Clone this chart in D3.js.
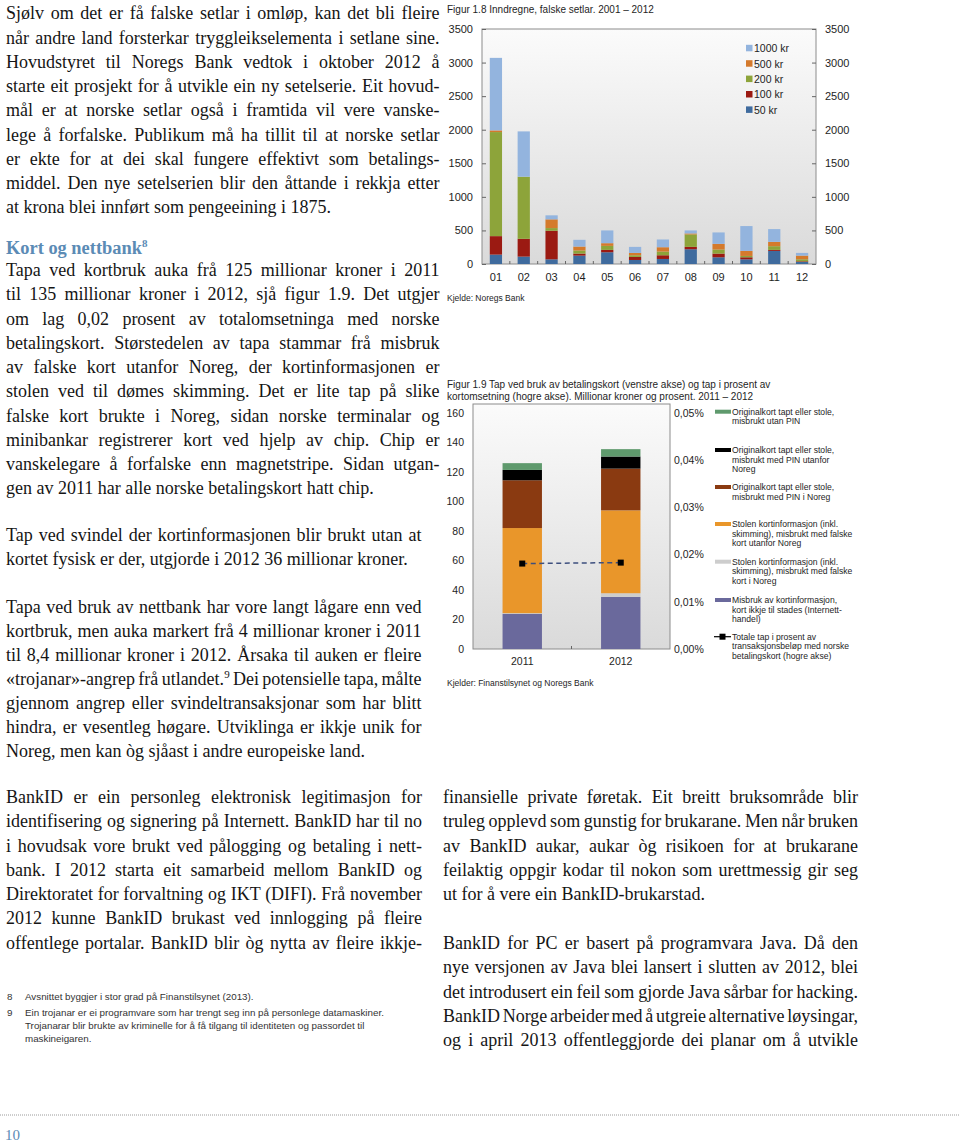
<!DOCTYPE html>
<html>
<head>
<meta charset="utf-8">
<script src="https://cdn.jsdelivr.net/npm/d3@7"></script>
<style>
  body { margin: 0; background: #fff; }
  text.body { font-family: "Liberation Serif", "Times New Roman", serif; fill: #151515; }
  .ch text { font-family: "Liberation Sans", Arial, sans-serif; fill: #1e1e1e; }
  .ch .domain { display: none; }
  .ch .tick line { stroke: #666; }
</style>
</head>
<body>
<svg id="page"></svg>
<script>
// ---- figur 1.8: inndregne falske setlar (tal), 2001-2012
const years8 = ["01", "02", "03", "04", "05", "06", "07", "08", "09", "10", "11", "12"];
const notes8 = ["50 kr", "100 kr", "200 kr", "500 kr", "1000 kr"];
const kr50 = [140, 110, 70, 125, 175, 60, 75, 220, 100, 70, 195, 30];
const kr100 = [275, 265, 425, 30, 35, 45, 55, 35, 55, 30, 15, 10];
const kr200 = [1550, 925, 40, 45, 60, 25, 55, 185, 60, 20, 55, 30];
const kr500 = [25, 0, 130, 60, 40, 35, 65, 15, 85, 75, 65, 55];
const kr1000 = [1080, 675, 60, 100, 190, 90, 115, 45, 170, 370, 190, 40];
const ticks8 = [0, 500, 1000, 1500, 2000, 2500, 3000, 3500];

// ---- figur 1.9: tap ved bruk av betalingskort, mill. kr og prosent
const years9 = ["2011", "2012"];
const cats9 = [
  "Misbruk av kortinformasjon, kort ikkje til stades (Internett-handel)",
  "Stolen kortinformasjon (inkl. skimming), misbrukt med falske kort i Noreg",
  "Stolen kortinformasjon (inkl. skimming), misbrukt med falske kort utanfor Noreg",
  "Originalkort tapt eller stole, misbrukt med PIN i Noreg",
  "Originalkort tapt eller stole, misbrukt med PIN utanfor Noreg",
  "Originalkort tapt eller stole, misbrukt utan PIN"
];
const internett = [23.8, 35.3];
const falskeNoreg = [0.5, 2.5];
const falskeUtanfor = [57.7, 56.2];
const pinNoreg = [32.4, 28.3];
const pinUtanfor = [7.0, 8.2];
const utanPin = [4.6, 5.0];
const totalPct = [0.0181, 0.0183];
const ticks9 = [0, 20, 40, 60, 80, 100, 120, 140, 160];
const ticksPct = [0, 0.01, 0.02, 0.03, 0.04, 0.05];

const width = 960, height = 1144;
const svg = d3.select("#page").attr("width", width).attr("height", height);
const defs = svg.append("defs");
const grad = defs.append("linearGradient").attr("id", "plotbg")
  .attr("x1", 0).attr("y1", 0).attr("x2", 0).attr("y2", 1);
grad.append("stop").attr("offset", "0%").attr("stop-color", "#fbfbfb");
grad.append("stop").attr("offset", "100%").attr("stop-color", "#dadada");

// ---------- body text helpers
function rich(t, s) {
  let up = false;
  s.split(/(\^\d)/).forEach(part => {
    if (!part) return;
    if (part[0] === "^") {
      t.append("tspan").attr("dy", -7).style("font-size", "11px").text(part.slice(1));
      up = true;
    } else {
      const sp = t.append("tspan").text(part);
      if (up) { sp.attr("dy", 7); up = false; }
    }
  });
}

function para(lines, x, y0, w, lastJustified = false, lh = 24.25) {
  lines.forEach((s, i) => {
    const t = svg.append("text").attr("class", "body")
      .attr("x", x).attr("y", y0 + i * lh)
      .style("font-size", "18px");
    rich(t, s);
    if (i < lines.length - 1 || lastJustified) {
      const n = (s.match(/ /g) || []).length;
      const len = t.node().getComputedTextLength();
      if (n) t.style("word-spacing", (w - len) / n + "px");
    }
  });
}

para([
  "Sjølv om det er få falske setlar i omløp, kan det bli fleire",
  "når andre land forsterkar tryggleikselementa i setlane sine.",
  "Hovudstyret til Noregs Bank vedtok i oktober 2012 å",
  "starte eit prosjekt for å utvikle ein ny setelserie. Eit hovud-",
  "mål er at norske setlar også i framtida vil vere vanske-",
  "lege å forfalske. Publikum må ha tillit til at norske setlar",
  "er ekte for at dei skal fungere effektivt som betalings-",
  "middel. Den nye setelserien blir den åttande i rekkja etter",
  "at krona blei innført som pengeeining i 1875."
], 6, 19.3, 433.5);

const head = svg.append("text").attr("class", "body")
  .attr("x", 6).attr("y", 253.5)
  .style("font-size", "18.4px").style("font-weight", "bold").style("fill", "#5b8bb5");
rich(head, "Kort og nettbank^8");

para([
  "Tapa ved kortbruk auka frå 125 millionar kroner i 2011",
  "til 135 millionar kroner i 2012, sjå figur 1.9. Det utgjer",
  "om lag 0,02 prosent av totalomsetninga med norske",
  "betalingskort. Størstedelen av tapa stammar frå misbruk",
  "av falske kort utanfor Noreg, der kortinformasjonen er",
  "stolen ved til dømes skimming. Det er lite tap på slike",
  "falske kort brukte i Noreg, sidan norske terminalar og",
  "minibankar registrerer kort ved hjelp av chip. Chip er",
  "vanskelegare å forfalske enn magnetstripe. Sidan utgan-",
  "gen av 2011 har alle norske betalingskort hatt chip."
], 6, 276, 433.5);

para([
  "Tap ved svindel der kortinformasjonen blir brukt utan at",
  "kortet fysisk er der, utgjorde i 2012 36 millionar kroner."
], 6, 541, 415.5);

para([
  "Tapa ved bruk av nettbank har vore langt lågare enn ved",
  "kortbruk, men auka markert frå 4 millionar kroner i 2011",
  "til 8,4 millionar kroner i 2012. Årsaka til auken er fleire",
  "«trojanar»-angrep frå utlandet.^9 Dei potensielle tapa, målte",
  "gjennom angrep eller svindeltransaksjonar som har blitt",
  "hindra, er vesentleg høgare. Utviklinga er ikkje unik for",
  "Noreg, men kan òg sjåast i andre europeiske land."
], 6, 613, 415.5, false, 24);

para([
  "BankID er ein personleg elektronisk legitimasjon for",
  "identifisering og signering på Internett. BankID har til no",
  "i hovudsak vore brukt ved pålogging og betaling i nett-",
  "bank. I 2012 starta eit samarbeid mellom BankID og",
  "Direktoratet for forvaltning og IKT (DIFI). Frå november",
  "2012 kunne BankID brukast ved innlogging på fleire",
  "offentlege portalar. BankID blir òg nytta av fleire ikkje-"
], 6, 803, 416, true);

para([
  "finansielle private føretak. Eit breitt bruksområde blir",
  "truleg opplevd som gunstig for brukarane. Men når bruken",
  "av BankID aukar, aukar òg risikoen for at brukarane",
  "feilaktig oppgir kodar til nokon som urettmessig gir seg",
  "ut for å vere ein BankID-brukarstad."
], 443, 803, 415);

para([
  "BankID for PC er basert på programvara Java. Då den",
  "nye versjonen av Java blei lansert i slutten av 2012, blei",
  "det introdusert ein feil som gjorde Java sårbar for hacking.",
  "BankID Norge arbeider med å utgreie alternative løysingar,",
  "og i april 2013 offentleggjorde dei planar om å utvikle"
], 443, 949, 415, true);

// footnotes
const fn = svg.append("g").attr("class", "ch").style("font-size", "9.8px");
const fnRows = [
  ["8", "Avsnittet byggjer i stor grad på Finanstilsynet (2013).", 1000],
  ["9", "Ein trojanar er ei programvare som har trengt seg inn på personlege datamaskiner.", 1016],
  ["", "Trojanarar blir brukte av kriminelle for å få tilgang til identiteten og passordet til", 1029],
  ["", "maskineigaren.", 1042]
];
fnRows.forEach(([n, s, y]) => {
  fn.append("text").attr("x", 7).attr("y", y).style("fill", "#333").text(n);
  fn.append("text").attr("x", 25).attr("y", y).style("fill", "#333").text(s);
});

// footer
svg.append("line").attr("x1", 0).attr("x2", width).attr("y1", 1115).attr("y2", 1115)
  .attr("stroke", "#9a9a9a").attr("stroke-dasharray", "1,1");
svg.append("text").attr("class", "body").attr("x", 5).attr("y", 1139.5)
  .style("font-size", "15px").style("fill", "#5b8bb5").text("10");

// ---------- figur 1.8
const c8 = { left: 482, right: 816, top: 29, bottom: 264 };
const g8 = svg.append("g").attr("class", "ch");

g8.append("text").attr("x", 447).attr("y", 12.5).style("font-size", "10px")
  .text("Figur 1.8 Inndregne, falske setlar. 2001 – 2012");

const x8 = d3.scaleBand().domain(years8).range([c8.left, c8.right])
  .paddingInner(0.56).paddingOuter(0.28);
const y8 = d3.scaleLinear().domain([0, 3500]).range([c8.bottom, c8.top]);
const color8 = d3.scaleOrdinal().domain(notes8)
  .range(["#3f6b9e", "#9b1a12", "#8da43a", "#d47a2c", "#93b4de"]);

g8.append("rect").attr("x", c8.left).attr("y", c8.top)
  .attr("width", c8.right - c8.left).attr("height", c8.bottom - c8.top)
  .attr("fill", "url(#plotbg)").attr("stroke", "#8c8c8c");

const rows8 = years8.map((yr, i) => ({
  year: yr, "50 kr": kr50[i], "100 kr": kr100[i], "200 kr": kr200[i],
  "500 kr": kr500[i], "1000 kr": kr1000[i]
}));
const stack8 = d3.stack().keys(notes8)(rows8);

g8.selectAll("g.layer").data(stack8).join("g").attr("class", "layer")
  .attr("fill", d => color8(d.key))
  .selectAll("rect").data(d => d).join("rect")
  .attr("x", d => x8(d.data.year))
  .attr("width", x8.bandwidth())
  .attr("y", d => y8(d[1]))
  .attr("height", d => y8(d[0]) - y8(d[1]));

const fmt8 = d3.format("d");
g8.append("g").attr("transform", `translate(${c8.left},0)`)
  .call(d3.axisLeft(y8).tickValues(ticks8).tickFormat(fmt8)
    .tickSizeInner(-4).tickSizeOuter(0).tickPadding(9))
  .selectAll("text").style("font-size", "11px");
g8.append("g").attr("transform", `translate(${c8.right},0)`)
  .call(d3.axisRight(y8).tickValues(ticks8).tickFormat(fmt8)
    .tickSizeInner(-4).tickSizeOuter(0).tickPadding(9))
  .selectAll("text").style("font-size", "11px");
g8.append("g").attr("transform", `translate(0,${c8.bottom})`)
  .call(d3.axisBottom(x8).tickSize(0).tickPadding(9))
  .selectAll("text").style("font-size", "11px");
// small separators between the years
g8.selectAll("line.sep").data(years8.slice(1)).join("line").attr("class", "sep")
  .attr("x1", d => x8(d) - x8.step() * x8.paddingInner() / 2)
  .attr("x2", d => x8(d) - x8.step() * x8.paddingInner() / 2)
  .attr("y1", c8.bottom).attr("y2", c8.bottom - 3).attr("stroke", "#666");

const leg8 = g8.append("g");
notes8.slice().reverse().forEach((k, i) => {
  const yy = 48.3 + i * 15.4;
  leg8.append("rect").attr("x", 746).attr("y", yy - 3.5).attr("width", 6.5).attr("height", 6.5)
    .attr("fill", color8(k));
  leg8.append("text").attr("x", 754).attr("y", yy + 3.8).style("font-size", "10.5px").text(k);
});

g8.append("text").attr("x", 447).attr("y", 300.5).style("font-size", "8.5px")
  .text("Kjelde: Noregs Bank");

// ---------- figur 1.9
const c9 = { left: 473, right: 670, top: 404, bottom: 649 };
const g9 = svg.append("g").attr("class", "ch");

g9.append("text").attr("x", 447).attr("y", 387.5).style("font-size", "10px")
  .text("Figur 1.9 Tap ved bruk av betalingskort (venstre akse) og tap i prosent av");
g9.append("text").attr("x", 447).attr("y", 399.5).style("font-size", "10px")
  .text("kortomsetning (hogre akse). Millionar kroner og prosent. 2011 – 2012");

const x9 = d3.scaleBand().domain(years9).range([c9.left, c9.right])
  .paddingInner(0.6).paddingOuter(0.3);
const y9 = d3.scaleLinear().domain([0, 160]).range([c9.bottom, 413]);
const yPct = d3.scaleLinear().domain([0, 0.05]).range([c9.bottom, 413]);
const color9 = d3.scaleOrdinal().domain(cats9)
  .range(["#6a699c", "#cdcdcd", "#e9962a", "#8a3a11", "#000000", "#5f9a6d"]);

g9.append("rect").attr("x", c9.left).attr("y", c9.top)
  .attr("width", c9.right - c9.left).attr("height", c9.bottom - c9.top)
  .attr("fill", "url(#plotbg)").attr("stroke", "#8c8c8c");

const series9 = [internett, falskeNoreg, falskeUtanfor, pinNoreg, pinUtanfor, utanPin];
const rows9 = years9.map((yr, i) => {
  const r = { year: yr };
  cats9.forEach((c, j) => { r[c] = series9[j][i]; });
  return r;
});
const stack9 = d3.stack().keys(cats9)(rows9);

g9.selectAll("g.layer").data(stack9).join("g").attr("class", "layer")
  .attr("fill", d => color9(d.key))
  .selectAll("rect").data(d => d).join("rect")
  .attr("x", d => x9(d.data.year))
  .attr("width", x9.bandwidth())
  .attr("y", d => y9(d[1]))
  .attr("height", d => y9(d[0]) - y9(d[1]));

const lineGen = d3.line()
  .x((d, i) => x9(years9[i]) + x9.bandwidth() / 2)
  .y(d => yPct(d));
g9.append("path").datum(totalPct).attr("d", lineGen)
  .attr("fill", "none").attr("stroke", "#3d4f7e").attr("stroke-width", 1.5)
  .attr("stroke-dasharray", "5,3.5");
g9.selectAll("rect.pt").data(totalPct).join("rect").attr("class", "pt")
  .attr("x", (d, i) => x9(years9[i]) + x9.bandwidth() / 2 - 3)
  .attr("y", d => yPct(d) - 3).attr("width", 6).attr("height", 6).attr("fill", "#000");

g9.append("g").attr("transform", `translate(${c9.left},0)`)
  .call(d3.axisLeft(y9).tickValues(ticks9).tickSizeInner(0).tickSizeOuter(0).tickPadding(9))
  .selectAll("text").style("font-size", "10.5px");
g9.append("g").attr("transform", `translate(${c9.right},0)`)
  .call(d3.axisRight(yPct).tickValues(ticksPct).tickSizeInner(0).tickSizeOuter(0).tickPadding(4)
    .tickFormat(d => d3.format(".2f")(d).replace(".", ",") + "%"))
  .selectAll("text").style("font-size", "10.5px");
g9.append("g").attr("transform", `translate(0,${c9.bottom})`)
  .call(d3.axisBottom(x9).tickSize(0).tickPadding(9))
  .selectAll("text").style("font-size", "10.5px");
g9.append("line").attr("x1", (c9.left + c9.right) / 2).attr("x2", (c9.left + c9.right) / 2)
  .attr("y1", c9.bottom).attr("y2", c9.bottom - 3).attr("stroke", "#666");

const legText9 = [
  ["Originalkort tapt eller stole,", "misbrukt utan PIN"],
  ["Originalkort tapt eller stole,", "misbrukt med PIN utanfor", "Noreg"],
  ["Originalkort tapt eller stole,", "misbrukt med PIN i Noreg"],
  ["Stolen kortinformasjon (inkl.", "skimming), misbrukt med falske", "kort utanfor Noreg"],
  ["Stolen kortinformasjon (inkl.", "skimming), misbrukt med falske", "kort i Noreg"],
  ["Misbruk av kortinformasjon,", "kort ikkje til stades (Internett-", "handel)"],
  ["Totale tap i prosent av", "transaksjonsbeløp med norske", "betalingskort (hogre akse)"]
];
const legY9 = [411.7, 450, 487, 524, 561.7, 600, 636.7];
const legKeys9 = cats9.slice().reverse();
const leg9 = g9.append("g");
legText9.forEach((lines, i) => {
  const yy = legY9[i];
  if (i < 6) {
    leg9.append("rect").attr("x", 715).attr("y", yy - 2).attr("width", 16).attr("height", 4)
      .attr("fill", color9(legKeys9[i]));
  } else {
    leg9.append("line").attr("x1", 714).attr("x2", 731).attr("y1", yy).attr("y2", yy)
      .attr("stroke", "#000").attr("stroke-width", 1.2);
    leg9.append("rect").attr("x", 719.5).attr("y", yy - 3).attr("width", 6).attr("height", 6)
      .attr("fill", "#000");
  }
  lines.forEach((s, j) => {
    leg9.append("text").attr("x", 732).attr("y", yy + 3 + j * 9.7)
      .style("font-size", "8.6px").text(s);
  });
});

g9.append("text").attr("x", 447).attr("y", 686).style("font-size", "8.5px")
  .text("Kjelder: Finanstilsynet og Noregs Bank");
</script>
</body>
</html>
